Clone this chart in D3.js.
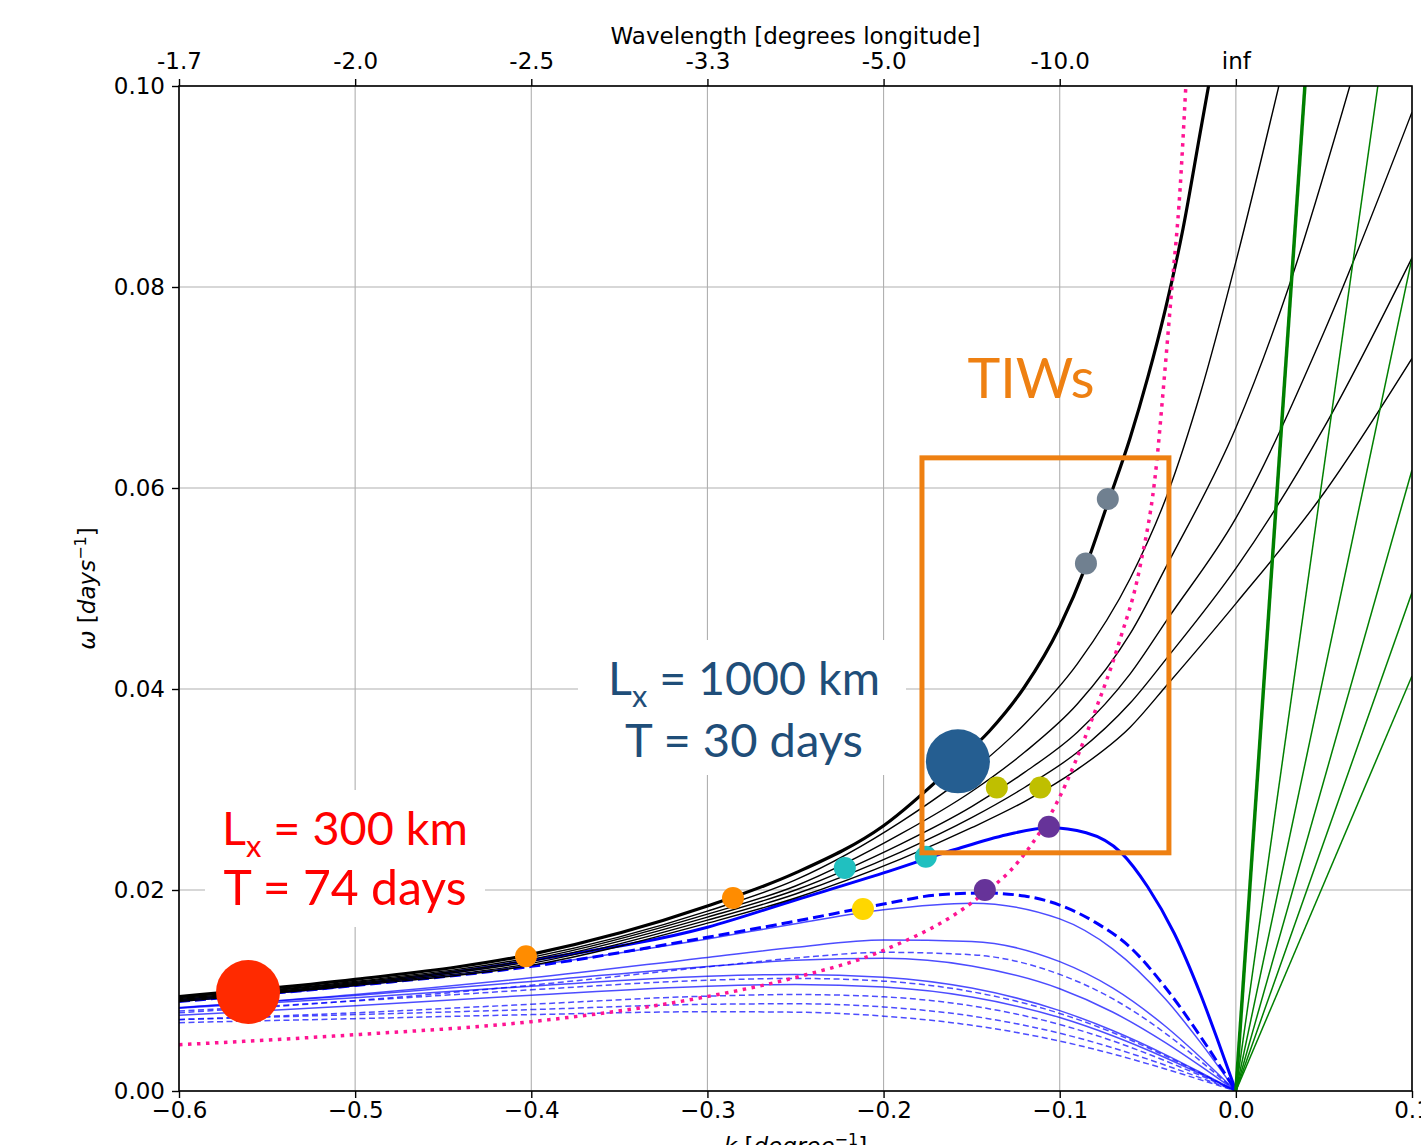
<!DOCTYPE html>
<html>
<head>
<meta charset="utf-8">
<script src="https://cdn.jsdelivr.net/npm/d3@7"></script>
<style>
  body { margin: 0; background: #fff; }
  svg { display: block; }
</style>
</head>
<body>
<svg id="chart" width="1421" height="1145"></svg>
<script>
// ---- data ----
const kTicks = [-0.6, -0.5, -0.4, -0.3, -0.2, -0.1, 0.0, 0.1];
const omegaTicks = [0, 0.02, 0.04, 0.06, 0.08, 0.10];
const wavelengthTicks = [-0.6, -0.5, -0.4, -0.3, -0.2, -0.1, 0.0];
const wavelengthLabels = ["-1.7", "-2.0", "-2.5", "-3.3", "-5.0", "-10.0", "inf"];

// thick black curve
const blackThick = [[-0.6,0.0094],[-0.5,0.0111],[-0.4,0.0136],[-0.3,0.0184],[-0.25,0.0217],[-0.2,0.0264],
  [-0.1578,0.0328],[-0.14,0.0358],[-0.12,0.0402],[-0.1,0.0462],[-0.085,0.0523],[-0.0727,0.0585],
  [-0.06,0.065],[-0.05,0.071],[-0.04,0.0778],[-0.03,0.0858],[-0.02,0.0956],[-0.0155,0.1]];

// thin black curves
const blackThin = [
  [[-0.6,0.0093],[-0.5,0.0109],[-0.4,0.0133],[-0.3,0.0179],[-0.25,0.021],[-0.19,0.0268],[-0.15,0.0318],[-0.12,0.0365],[-0.09,0.0425],[-0.06,0.051],[-0.0386,0.0595],[-0.02,0.0695],[0,0.0825],[0.0244,0.1]],
  [[-0.6,0.0092],[-0.5,0.0108],[-0.4,0.0131],[-0.3,0.0176],[-0.25,0.0204],[-0.19,0.0256],[-0.15,0.0298],[-0.12,0.0337],[-0.09,0.0385],[-0.06,0.0455],[-0.0386,0.0525],[0,0.066],[0.03,0.08],[0.0647,0.1]],
  [[-0.6,0.0091],[-0.5,0.0107],[-0.4,0.0129],[-0.3,0.0173],[-0.25,0.02],[-0.19,0.0246],[-0.15,0.0283],[-0.12,0.0317],[-0.09,0.0357],[-0.06,0.0415],[-0.0386,0.047],[0,0.057],[0.05,0.0755],[0.1,0.0974]],
  [[-0.6,0.009],[-0.5,0.0106],[-0.4,0.0127],[-0.3,0.017],[-0.25,0.0196],[-0.19,0.0238],[-0.15,0.0272],[-0.12,0.0302],[-0.09,0.0337],[-0.06,0.0386],[-0.0386,0.0432],[0,0.052],[0.05,0.066],[0.1,0.0829]],
  [[-0.6,0.0089],[-0.5,0.0105],[-0.4,0.0125],[-0.3,0.0167],[-0.25,0.0192],[-0.19,0.0231],[-0.15,0.0262],[-0.12,0.0288],[-0.09,0.032],[-0.06,0.0362],[-0.0386,0.0405],[0,0.0485],[0.05,0.0595],[0.1,0.0729]]
];

// blue curves: thick solid, thick dashed
const blueThick = [[-0.6,0.009],[-0.5,0.0106],[-0.4,0.013],[-0.3,0.0163],[-0.25,0.019],[-0.2,0.0217],[-0.16,0.024],
  [-0.13,0.0255],[-0.106,0.0262],[-0.085,0.0257],[-0.065,0.0237],[-0.05,0.0203],[-0.035,0.0157],[-0.02,0.0096],[-0.01,0.0049],[0,0]];
const blueThickDashed = [[-0.6,0.0089],[-0.5,0.0105],[-0.4,0.0124],[-0.3,0.0153],[-0.25,0.0169],[-0.2,0.0186],[-0.17,0.0195],
  [-0.1425,0.0197],[-0.12,0.0194],[-0.1,0.0185],[-0.08,0.0168],[-0.06,0.0143],[-0.04,0.0103],[-0.02,0.0054],[0,0]];

// thin blue curves, sampled at kBlue
const kBlue = [-0.6,-0.5,-0.4,-0.3,-0.25,-0.2,-0.15,-0.1,-0.07,-0.04,-0.02,0];
const blueThinSolid = [
  [0.00895,0.01046,0.01248,0.01513,0.01665,0.01804,0.01869,0.01713,0.01415,0.00915,0.00481,0],
  [0.00827,0.00959,0.01126,0.01329,0.0143,0.01502,0.01488,0.01287,0.01026,0.00644,0.00334,0],
  [0.0083,0.0095,0.0109,0.0124,0.013,0.0132,0.01244,0.01018,0.00786,0.00481,0.00247,0],
  [0.00824,0.00928,0.01043,0.01141,0.0116,0.01132,0.01024,0.008,0.00602,0.00362,0.00184,0],
  [0.00753,0.00848,0.00953,0.01043,0.0106,0.01034,0.00935,0.00731,0.0055,0.00331,0.00169,0]
];
const blueThinDashed = [
  [0.00778,0.00899,0.01053,0.01235,0.01323,0.0138,0.01356,0.0116,0.00919,0.00574,0.00297,0],
  [0.00795,0.00896,0.01007,0.01102,0.0112,0.01093,0.00988,0.00772,0.00582,0.00349,0.00178,0],
  [0.00712,0.00778,0.00863,0.00944,0.0096,0.00937,0.00847,0.00662,0.00499,0.003,0.00153,0],
  [0.0071,0.0076,0.0081,0.00863,0.00868,0.00836,0.00746,0.00575,0.0043,0.00257,0.00131,0],
  [0.0068,0.0072,0.0076,0.00789,0.00784,0.00745,0.00654,0.00497,0.00369,0.00219,0.00111,0]
];

// green straight lines from the origin: end points
const greenThickEnd = [0.0392, 0.1];
const greenThinEnds = [[0.0806,0.1],[0.1,0.0829],[0.1,0.0618],[0.1,0.0496],[0.1,0.0413]];

// dotted magenta curve
const magenta = [[-0.6,0.0046],[-0.5,0.0056],[-0.4,0.0069],[-0.3,0.0094],[-0.25,0.0113],[-0.2,0.014],
  [-0.148,0.019],[-0.1226,0.023],[-0.1016,0.0287],[-0.0812,0.0372],[-0.0658,0.0449],[-0.0545,0.0521],
  [-0.0448,0.0628],[-0.0414,0.0694],[-0.0363,0.08],[-0.0318,0.0894],[-0.0284,0.1]];

// coloured markers
const markerK = [-0.403,-0.2855,-0.222,-0.176,-0.2117,-0.1425,-0.1062,-0.1357,-0.111,-0.0851,-0.0727];
const markerW = [0.0134,0.0192,0.0222,0.0233,0.0181,0.0200,0.0263,0.0302,0.0302,0.0525,0.0589];
const markerGroup = ["orange","orange","cyan","cyan","gold","purple","purple","olive","olive","gray","gray"];
const bigDots = [{k:-0.5608, w:0.00985, group:"red"}, {k:-0.1578, w:0.0328, group:"navy"}];
const tiwBox = {k0:-0.1782, k1:-0.038, w0:0.0237, w1:0.063};

// ---- styles ----
const colors = {orange:"#ff8c00", cyan:"#20c0c0", gold:"#ffd700", purple:"#663399", olive:"#bfbf00",
  gray:"#708090", red:"#ff2a00", navy:"#255e91"};
const mplFont = "'DejaVu Sans', sans-serif";
const annFont = "Lato, Roboto, 'Open Sans', sans-serif";

const svg = d3.select("#chart");
const margin = {left:179, right:9, top:86, bottom:54};
const W = +svg.attr("width"), H = +svg.attr("height");

const x = d3.scaleLinear().domain([-0.6, 0.1]).range([margin.left, W - margin.right]);
const y = d3.scaleLinear().domain([0, 0.1]).range([H - margin.bottom, margin.top]);

svg.append("rect").attr("width", W).attr("height", H).attr("fill", "#fff");
svg.append("defs").append("clipPath").attr("id", "plot")
  .append("rect").attr("x", x(-0.6)).attr("y", y(0.1))
  .attr("width", x(0.1) - x(-0.6)).attr("height", y(0) - y(0.1));

// grid
const grid = svg.append("g").attr("stroke", "#b0b0b0").attr("stroke-width", 1.1);
grid.selectAll(".gx").data(kTicks).join("line")
  .attr("x1", d => x(d)).attr("x2", d => x(d)).attr("y1", y(0)).attr("y2", y(0.1));
grid.selectAll(".gy").data(omegaTicks).join("line")
  .attr("x1", x(-0.6)).attr("x2", x(0.1)).attr("y1", d => y(d)).attr("y2", d => y(d));

const plot = svg.append("g").attr("clip-path", "url(#plot)");
const line = d3.line().x(d => x(d[0])).y(d => y(d[1])).curve(d3.curveMonotoneX);
const straight = d3.line().x(d => x(d[0])).y(d => y(d[1]));

// blue thin
blueThinSolid.forEach(s => {
  plot.append("path").datum(kBlue.map((k, i) => [k, s[i]])).attr("d", line)
    .attr("fill", "none").attr("stroke", "#0000ff").attr("stroke-opacity", 0.7).attr("stroke-width", 1.5);
});
blueThinDashed.forEach(s => {
  plot.append("path").datum(kBlue.map((k, i) => [k, s[i]])).attr("d", line)
    .attr("fill", "none").attr("stroke", "#0000ff").attr("stroke-opacity", 0.7).attr("stroke-width", 1.5)
    .attr("stroke-dasharray", "6,3.5");
});
plot.append("path").datum(blueThickDashed).attr("d", line).attr("fill", "none")
  .attr("stroke", "#0000ff").attr("stroke-width", 3).attr("stroke-dasharray", "11,5");
plot.append("path").datum(blueThick).attr("d", line).attr("fill", "none")
  .attr("stroke", "#0000ff").attr("stroke-width", 3);

// black
blackThin.forEach(s => {
  plot.append("path").datum(s).attr("d", line).attr("fill", "none")
    .attr("stroke", "#000").attr("stroke-width", 1.4);
});
plot.append("path").datum(blackThick).attr("d", line).attr("fill", "none")
  .attr("stroke", "#000").attr("stroke-width", 3.2);

// green
greenThinEnds.forEach(e => {
  plot.append("path").datum([[0, 0], e]).attr("d", straight)
    .attr("stroke", "#008000").attr("stroke-width", 1.5).attr("fill", "none");
});
plot.append("path").datum([[0, 0], greenThickEnd]).attr("d", straight)
  .attr("stroke", "#008000").attr("stroke-width", 3.5).attr("fill", "none");

// magenta dotted
plot.append("path").datum(magenta).attr("d", line).attr("fill", "none")
  .attr("stroke", "#ff1493").attr("stroke-width", 3.5).attr("stroke-dasharray", "3.5,5.5");

// markers
plot.selectAll(".mk").data(markerK).join("circle")
  .attr("cx", d => x(d)).attr("cy", (d, i) => y(markerW[i])).attr("r", 11)
  .attr("fill", (d, i) => colors[markerGroup[i]]);

// axes frame
svg.append("rect").attr("x", x(-0.6)).attr("y", y(0.1))
  .attr("width", x(0.1) - x(-0.6)).attr("height", y(0) - y(0.1))
  .attr("fill", "none").attr("stroke", "#000").attr("stroke-width", 1.6);

const fs = 23;
const axBottom = svg.append("g").attr("transform", `translate(0,${y(0)})`)
  .call(d3.axisBottom(x).tickValues(kTicks).tickSize(7).tickPadding(4)
    .tickFormat(d => d3.format(".1f")(d).replace("-", "\u2212")));
const axLeft = svg.append("g").attr("transform", `translate(${x(-0.6)},0)`)
  .call(d3.axisLeft(y).tickValues(omegaTicks).tickSize(7).tickPadding(7).tickFormat(d3.format(".2f")));
const axTop = svg.append("g").attr("transform", `translate(0,${y(0.1)})`)
  .call(d3.axisTop(x).tickValues(wavelengthTicks).tickSize(7).tickPadding(10)
    .tickFormat((d, i) => wavelengthLabels[i]));
[axBottom, axLeft, axTop].forEach(g => {
  g.select(".domain").remove();
  g.selectAll("text").attr("font-size", fs).style("font-family", mplFont).attr("fill", "#000");
  g.selectAll("line").attr("stroke", "#000").attr("stroke-width", 1.4);
});

svg.append("text").attr("x", (x(-0.6) + x(0.1)) / 2).attr("y", 44).attr("text-anchor", "middle")
  .style("font-family", mplFont).attr("font-size", fs).text("Wavelength [degrees longitude]");

// x label (mostly cut by the bottom edge)
const xl = svg.append("text").attr("x", (x(-0.6) + x(0.1)) / 2).attr("y", 1154)
  .attr("text-anchor", "middle").attr("font-size", fs).style("font-family", mplFont);
xl.append("tspan").attr("font-style", "italic").text("k");
xl.append("tspan").text(" [");
xl.append("tspan").attr("font-style", "italic").text("degree");
xl.append("tspan").attr("font-size", 16).attr("dy", -9).text("\u22121");
xl.append("tspan").attr("dy", 9).text("]");

// y label
const yl = svg.append("text").attr("transform", `translate(95,${(y(0) + y(0.1)) / 2}) rotate(-90)`)
  .attr("text-anchor", "middle").attr("font-size", fs).style("font-family", mplFont);
yl.append("tspan").attr("font-style", "italic").text("\u03c9");
yl.append("tspan").text(" [");
yl.append("tspan").attr("font-style", "italic").text("days");
yl.append("tspan").attr("font-size", 16).attr("dy", -9).text("\u22121");
yl.append("tspan").attr("dy", 9).text("]");

// ---- annotations ----
const ann = svg.append("g");

// scale a text's font size so that it spans the wanted width
function fitWidth(sel, width) {
  const w0 = sel.node().getComputedTextLength();
  const f0 = +sel.attr("font-size");
  sel.attr("font-size", f0 * width / w0);
}

ann.append("rect").attr("x", x(tiwBox.k0)).attr("y", y(tiwBox.w1))
  .attr("width", x(tiwBox.k1) - x(tiwBox.k0)).attr("height", y(tiwBox.w0) - y(tiwBox.w1))
  .attr("fill", "none").attr("stroke", "#ee8012").attr("stroke-width", 5);
const tiw = ann.append("text").attr("x", 1031).attr("y", 398).attr("text-anchor", "middle")
  .attr("font-size", 56).attr("fill", "#ee8012").style("font-family", annFont).text("TIWs");
fitWidth(tiw, 127);

function label(cx, y1, y2, color, lx, t, box, w1, w2) {
  ann.append("rect").attr("x", box[0]).attr("y", box[1]).attr("width", box[2]).attr("height", box[3])
    .attr("fill", "#fff");
  const a = ann.append("text").attr("x", cx).attr("y", y1).attr("text-anchor", "middle")
    .attr("font-size", 48).attr("fill", color).style("font-family", annFont);
  a.append("tspan").text("L");
  a.append("tspan").attr("font-size", "0.66em").attr("dy", "0.38em").text("x");
  a.append("tspan").attr("dy", "-0.25em").text(" = " + lx);
  fitWidth(a, w1);
  const b = ann.append("text").attr("x", cx).attr("y", y2).attr("text-anchor", "middle")
    .attr("font-size", 48).attr("fill", color).style("font-family", annFont).text("T = " + t);
  fitWidth(b, w2);
}
label(744, 695, 757, "#1f4e79", "1000 km", "30 days", [578, 640, 328, 135], 272, 238);
label(345, 845, 905, "#ff0000", "300 km", "74 days", [205, 790, 280, 137], 246, 243);

// big dots
ann.selectAll(".big").data(bigDots).join("circle")
  .attr("cx", d => x(d.k)).attr("cy", d => y(d.w)).attr("r", 32)
  .attr("fill", d => colors[d.group]);
</script>
</body>
</html>
